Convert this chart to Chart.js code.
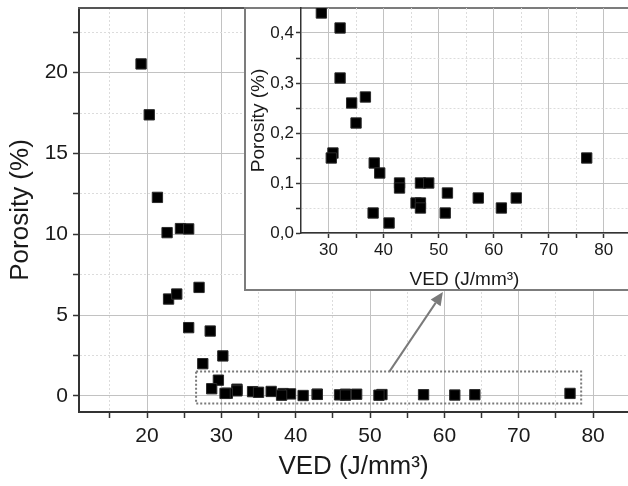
<!DOCTYPE html>
<html>
<head>
<meta charset="utf-8">
<script src="https://cdn.jsdelivr.net/npm/chart.js@4/dist/chart.umd.min.js"></script>
<style>
  html, body { margin:0; padding:0; background:#fff; overflow:hidden; }
  #wrap { position:relative; width:628px; height:486px; overflow:hidden; }
  /* canvases are shifted by the 10px layout padding so the plot areas land where they should */
  #main { position:absolute; left:-10px; top:-2px; }
  #insetBox { position:absolute; left:244px; top:7px; width:420px; height:284px; box-sizing:border-box; border:2px solid #7c7c7c; background:#fff; }
  #inset { position:absolute; left:236px; top:-2px; }
</style>
</head>
<body>
<div id="wrap">
  <canvas id="main" width="648" height="498"></canvas>
  <div id="insetBox"></div>
  <canvas id="inset" width="402" height="301"></canvas>
</div>
<script>
// porosity vs volumetric energy density
const ved = [19.2, 20.3, 21.4, 22.7, 24.5, 25.6, 22.9, 24.0, 27.0, 25.6, 28.5, 27.5, 30.2, 29.6,
  28.7, 32.1, 32.1, 34.2, 36.7, 35.0, 30.8, 30.5, 38.3, 39.3, 38.1, 41.0, 42.9, 42.9,
  46.7, 48.2, 45.9, 46.7, 46.7, 51.6, 51.2, 57.2, 61.4, 64.1, 76.9];
const porosity = [20.54, 17.39, 12.28, 10.1, 10.35, 10.33, 5.99, 6.3, 6.71, 4.22, 4.01, 1.99, 2.47, 0.97,
  0.44, 0.41, 0.31, 0.26, 0.272, 0.22, 0.16, 0.15, 0.14, 0.12, 0.04, 0.02, 0.10, 0.09,
  0.10, 0.10, 0.06, 0.06, 0.05, 0.08, 0.04, 0.07, 0.05, 0.07, 0.15];

// ticks
const mainXMajor = [20, 30, 40, 50, 60, 70, 80];
const mainXMinor = [15, 25, 35, 45, 55, 65, 75];
const mainYMajor = [0, 5, 10, 15, 20];
const mainYMinor = [2.5, 7.5, 12.5, 17.5, 22.5];
const insetXMajor = [30, 40, 50, 60, 70, 80];
const insetXMinor = [35, 45, 55, 65, 75];
const insetYMajor = [0, 0.1, 0.2, 0.3, 0.4];
const insetYMinor = [0.05, 0.15, 0.25, 0.35];

// zoomed region marked on the main plot (data units) and where the arrow points
const zoomVed = [26.6, 78.4];
const zoomPor = [-0.48, 1.5];
const arrowFrom = [52.6, 1.5];
const arrowTo = [59.8, 6.42];

Chart.defaults.font.family = "'Liberation Sans', Arial, sans-serif";
Chart.defaults.color = '#1a1a1a';
Chart.defaults.animation = false;

const points = ved.map((v, i) => ({ x: v, y: porosity[i] }));

function axis(min, max, major, minor, fmt, o) {
  return {
    type: 'linear', position: o.position, min: min, max: max,
    afterBuildTicks: s => {
      s.ticks = major.concat(minor).sort((a, b) => a - b).map(v => ({ value: v, isMajor: major.includes(v) }));
    },
    afterFit: s => {
      if (o.position === 'left') s.width = o.size; else s.height = o.size;
      s.paddingTop = 0; s.paddingBottom = 0; s.paddingLeft = 0; s.paddingRight = 0;
    },
    ticks: {
      autoSkip: false, maxRotation: 0, padding: o.pad,
      font: { size: o.tickSize },
      callback: v => major.includes(v) ? fmt(v) : ''
    },
    grid: {
      color: c => (c.tick && c.tick.isMajor) ? '#c2c2c2' : '#dcdcdc',
      lineWidth: 1,
      tickLength: o.tl, tickColor: '#333', tickWidth: 1.5
    },
    border: {
      color: '#333', width: o.bw,
      dash: c => (c.tick && !c.tick.isMajor) ? [2, 2] : []
    },
    title: {
      display: true, text: o.title,
      font: { size: o.titleSize, lineHeight: o.titleLh },
      padding: o.titlePad
    }
  };
}

const zoomMarker = {
  id: 'zoomMarker',
  afterDatasetsDraw(chart) {
    const { ctx, scales: { x, y } } = chart;
    const l = x.getPixelForValue(zoomVed[0]), r = x.getPixelForValue(zoomVed[1]);
    const t = y.getPixelForValue(zoomPor[1]), b = y.getPixelForValue(zoomPor[0]);
    ctx.save();
    ctx.strokeStyle = '#7a7a7a';
    ctx.fillStyle = '#7a7a7a';
    ctx.lineWidth = 2;
    ctx.setLineDash([2, 2]);
    ctx.strokeRect(l, t, r - l, b - t);
    ctx.setLineDash([]);
    const x0 = x.getPixelForValue(arrowFrom[0]), y0 = y.getPixelForValue(arrowFrom[1]);
    const x1 = x.getPixelForValue(arrowTo[0]), y1 = y.getPixelForValue(arrowTo[1]);
    const a = Math.atan2(y1 - y0, x1 - x0);
    const hl = 13, hw = 6;
    const bx = x1 - hl * Math.cos(a), by = y1 - hl * Math.sin(a);
    ctx.beginPath();
    ctx.moveTo(x0, y0);
    ctx.lineTo(bx, by);
    ctx.stroke();
    ctx.beginPath();
    ctx.moveTo(x1, y1);
    ctx.lineTo(bx + hw * Math.sin(a), by - hw * Math.cos(a));
    ctx.lineTo(bx - hw * Math.sin(a), by + hw * Math.cos(a));
    ctx.closePath();
    ctx.fill();
    ctx.restore();
  }
};

const dataset = {
  data: points,
  pointStyle: 'rect',
  pointRadius: 7.3,
  backgroundColor: '#000',
  borderColor: '#2a2a2a',
  borderWidth: 1,
  showLine: false
};

new Chart(document.getElementById('main'), {
  type: 'scatter',
  data: { datasets: [dataset] },
  options: {
    responsive: false,
    layout: { padding: 10 },
    plugins: { legend: { display: false }, tooltip: { enabled: false } },
    scales: {
      x: axis(10.85, 84.7, mainXMajor, mainXMinor, v => v, {
        position: 'bottom', size: 74, pad: 6, tl: 6, tickSize: 21, bw: 2,
        title: 'VED (J/mm³)', titleSize: 26, titleLh: 1.2, titlePad: { top: 0, bottom: 4 }
      }),
      y: axis(-1, 24, mainYMajor, mainYMinor, v => v, {
        position: 'left', size: 79, pad: 5, tl: 6, tickSize: 21, bw: 2,
        title: 'Porosity (%)', titleSize: 26, titleLh: 1.2, titlePad: { top: 5, bottom: 0 }
      }),
      top: {
        type: 'linear', position: 'top', min: 10.85, max: 84.7,
        ticks: { display: false },
        grid: { drawOnChartArea: false, drawTicks: false },
        border: { color: '#555', width: 2 },
        afterFit: s => { s.height = 0; s.paddingLeft = 0; s.paddingRight = 0; }
      }
    }
  },
  plugins: [zoomMarker]
});

new Chart(document.getElementById('inset'), {
  type: 'scatter',
  data: { datasets: [Object.assign({}, dataset)] },
  options: {
    responsive: false,
    layout: { padding: 10 },
    plugins: { legend: { display: false }, tooltip: { enabled: false } },
    scales: {
      x: axis(25, 84.4, insetXMajor, insetXMinor, v => v, {
        position: 'bottom', size: 56, pad: 2, tl: 5, tickSize: 17, bw: 1.5,
        title: 'VED (J/mm³)', titleSize: 19, titleLh: 1.0, titlePad: { top: 0, bottom: 0 }
      }),
      y: axis(0, 0.45, insetYMajor, insetYMinor, v => v.toFixed(1).replace('.', ','), {
        position: 'left', size: 55, pad: 2, tl: 5, tickSize: 17, bw: 1.5,
        title: 'Porosity (%)', titleSize: 19, titleLh: 1.2, titlePad: { top: 1.6, bottom: 0 }
      })
    }
  }
});
</script>
</body>
</html>
